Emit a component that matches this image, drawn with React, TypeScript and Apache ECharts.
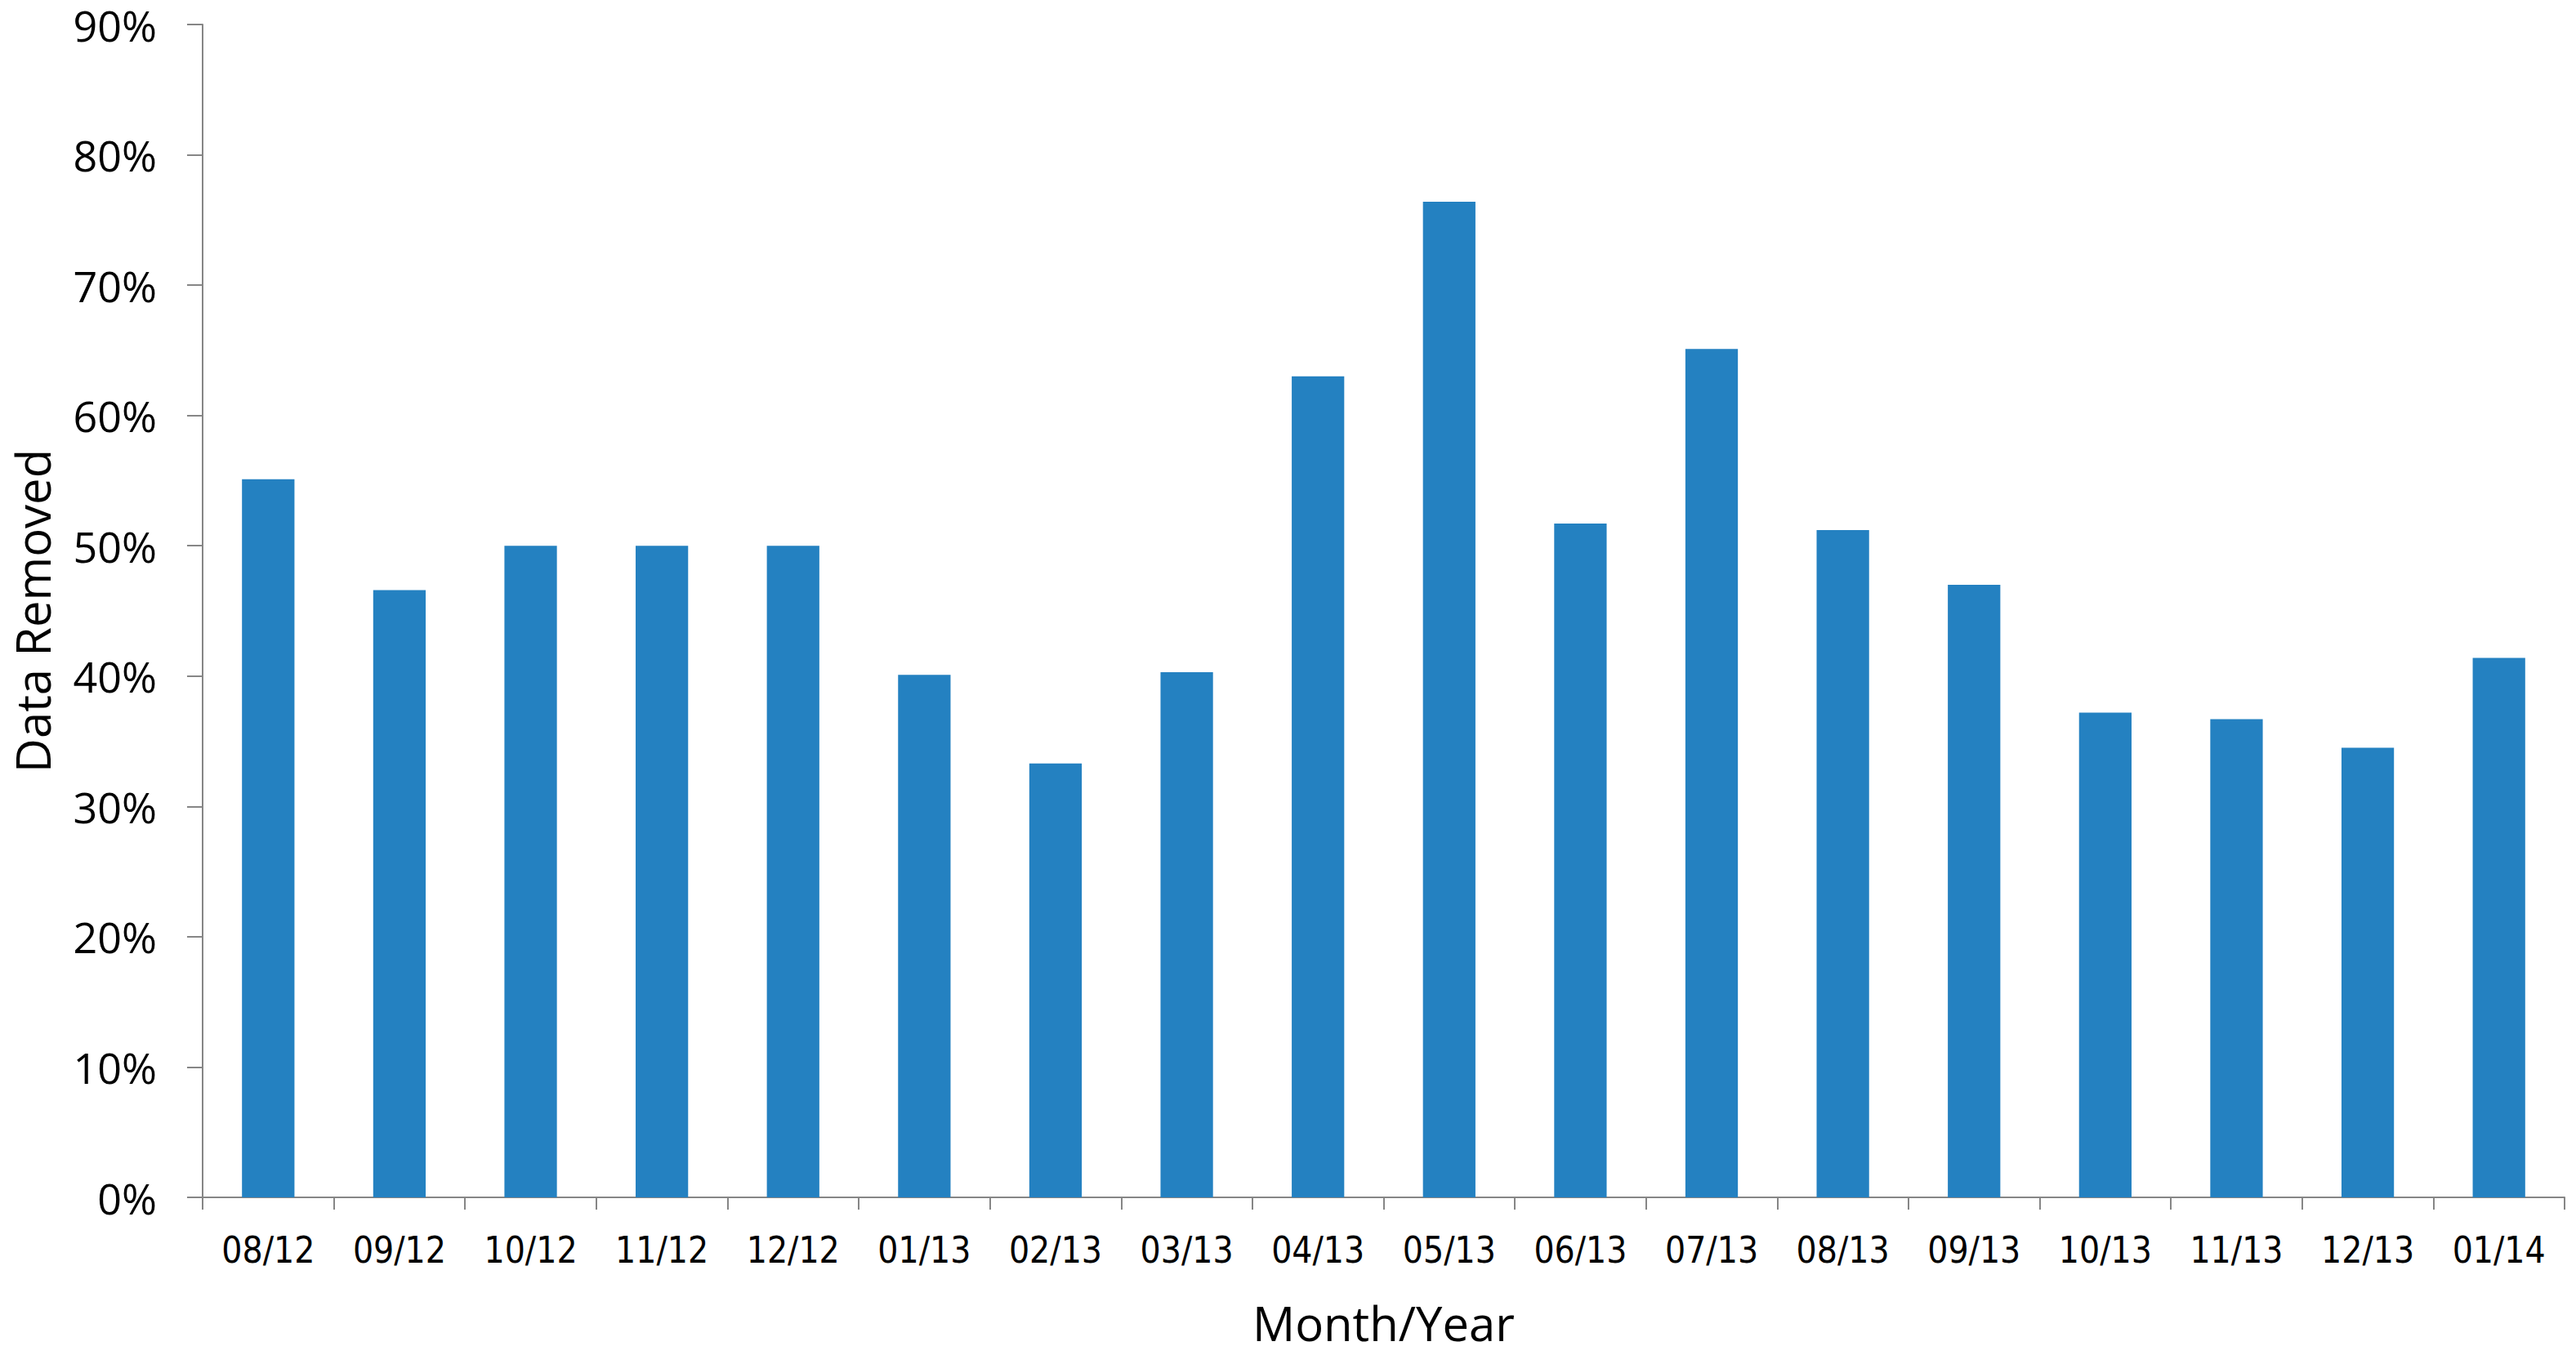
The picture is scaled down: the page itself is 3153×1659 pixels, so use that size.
import React, { useEffect, useRef } from "react";
import * as echarts from "echarts";

const categories = [
  "08/12", "09/12", "10/12", "11/12", "12/12", "01/13", "02/13", "03/13", "04/13",
  "05/13", "06/13", "07/13", "08/13", "09/13", "10/13", "11/13", "12/13", "01/14",
];
const dataRemoved = [
  55.1, 46.6, 50.0, 50.0, 50.0, 40.1, 33.3, 40.3, 63.0,
  76.4, 51.7, 65.1, 51.2, 47.0, 37.2, 36.7, 34.5, 41.4,
];
const yTicks = [0, 10, 20, 30, 40, 50, 60, 70, 80, 90];
const xTitle = "Month/Year";
const yTitle = "Data Removed";

export default function App() {
  const ref = useRef<HTMLDivElement>(null);
  useEffect(() => {
    if (!ref.current) return;
    const chart = echarts.init(ref.current, null, { renderer: "svg" });
    const axisColor = "#868686";
    chart.setOption({
      animation: false,
      backgroundColor: "#ffffff",
      grid: { left: 248, right: 14, top: 30, bottom: 193, containLabel: false },
      xAxis: {
        type: "category",
        data: categories,
        name: xTitle,
        nameLocation: "middle",
        nameGap: 124,
        nameTextStyle: { fontFamily: "'Open Sans', sans-serif", fontSize: 58, color: "#000" },
        axisLine: { lineStyle: { color: axisColor, width: 2 } },
        axisTick: { show: true, length: 15, lineStyle: { color: axisColor, width: 2 } },
        axisLabel: {
          margin: 42,
          fontFamily: "'Liberation Sans Narrow', 'DejaVu Sans Condensed', 'Open Sans', sans-serif",
          fontSize: 44,
          color: "#000",
          interval: 0,
        },
        splitLine: { show: false },
      },
      yAxis: {
        type: "value",
        min: yTicks[0],
        max: yTicks[yTicks.length - 1],
        interval: 10,
        name: yTitle,
        nameLocation: "middle",
        nameGap: 180,
        nameRotate: 90,
        nameTextStyle: { fontFamily: "'Open Sans', sans-serif", fontSize: 58, lineHeight: 58, color: "#000" },
        axisLine: { show: true, lineStyle: { color: axisColor, width: 2 } },
        axisTick: { show: true, length: 19, lineStyle: { color: axisColor, width: 2 } },
        axisLabel: {
          margin: 56,
          fontFamily: "'Open Sans', sans-serif",
          fontSize: 52,
          lineHeight: 44,
          color: "#000",
          formatter: (v: number) => `${v}%`,
        },
        splitLine: { show: false },
      },
      series: [
        {
          type: "bar",
          data: dataRemoved,
          barCategoryGap: "60%",
          itemStyle: { color: "#2481c1" },
        },
      ],
    });
    return () => chart.dispose();
  }, []);
  return (
    <div
      ref={ref}
      style={{ position: "absolute", left: 0, top: 0, width: 3153, height: 1659, background: "#fff" }}
    />
  );
}
